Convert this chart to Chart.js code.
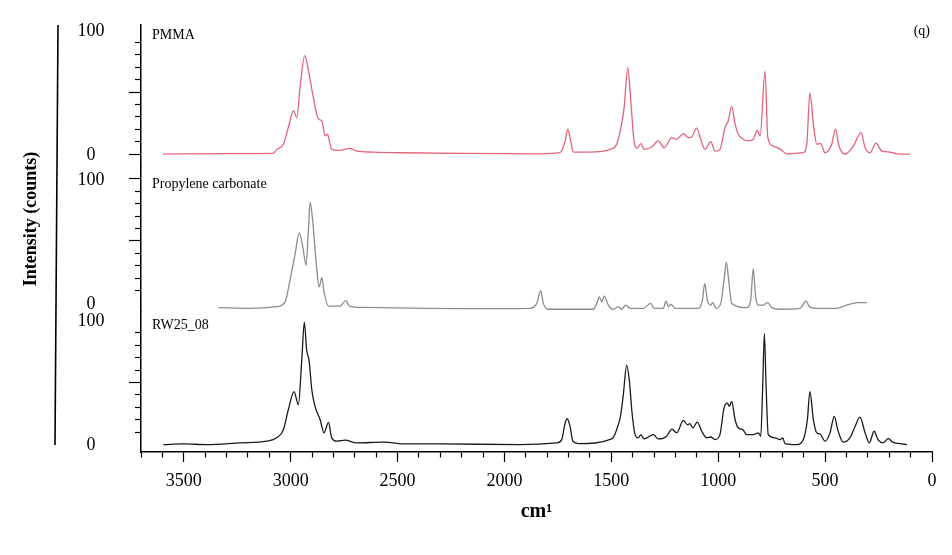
<!DOCTYPE html>
<html>
<head>
<meta charset="utf-8">
<style>
  html, body { margin: 0; padding: 0; background: #fff; }
</style>
<script src="https://cdn.jsdelivr.net/npm/chart.js@4.4.1/dist/chart.umd.min.js"></script>
</head>
<body>
<canvas id="raman" width="952" height="555"></canvas>
<script>
// Raman shift (cm-1) and intensity (counts)
const pmmaShift = [
  3597, 3300, 3082, 3065, 3034, 3011, 2987, 2971, 2956, 2934,
  2917, 2894, 2870, 2854, 2839, 2828, 2808, 2769, 2725, 2691,
  2614, 2488, 2200, 1833, 1740, 1716, 1704, 1690, 1678, 1600,
  1506, 1475, 1452, 1440, 1423, 1409, 1394, 1381, 1361, 1347,
  1311, 1280, 1253, 1217, 1194, 1163, 1140, 1124, 1101, 1082,
  1062, 1035, 1015, 992, 968, 953, 937, 921, 906, 883,
  859, 836, 817, 804, 781, 768, 742, 708, 680, 602,
  586, 571, 555, 539, 521, 500, 469, 452, 435, 407,
  368, 332, 313, 290, 262, 235, 196, 165, 103
];
const pmmaCounts = [
  0, 0.3, 0.5, 3.8, 7.9, 21.4, 34.9, 29.5, 54, 79.4,
  67.5, 45.8, 28.2, 26.8, 14.6, 16, 3.8, 3, 4.6, 2.4,
  1.6, 1.1, 0.5, 0.2, 1.1, 10.6, 20.1, 10.6, 1.6, 1.6,
  3.8, 7.9, 24.1, 37.6, 69.7, 43, 10.6, 4.6, 8.4, 3.8,
  5.7, 10.6, 5.1, 13.2, 11.9, 16.5, 13.2, 13.8, 20.9, 11.9,
  3.8, 10, 2.4, 3.8, 21.4, 26.8, 38.5, 24.1, 16, 11.9,
  10.6, 11.9, 19.3, 14.6, 66.9, 13.2, 6.5, 3.8, 0.2, 1.1,
  7.9, 49.3, 24.1, 7.9, 8.4, 1.1, 7.9, 20.1, 6.5, 0,
  6.5, 17.3, 5.1, 1.1, 8.8, 2.4, 1.6, 0.2, 0
];

const pcShift = [
  3338, 3190, 3065, 3026, 3003, 2979, 2960, 2943, 2928, 2917,
  2909, 2897, 2878, 2867, 2854, 2844, 2823, 2769, 2742, 2725,
  2660, 2020, 1880, 1849, 1830, 1818, 1795, 1584, 1568, 1556,
  1545, 1533, 1514, 1491, 1467, 1451, 1433, 1412, 1350, 1316,
  1300, 1257, 1244, 1233, 1222, 1202, 1093, 1074, 1063, 1051,
  1035, 1026, 1010, 988, 973, 962, 951, 937, 867, 848,
  836, 825, 812, 789, 768, 750, 711, 617, 599, 589,
  574, 539, 446, 399, 368, 352, 305
];
const pcCounts = [
  -3.7, -4.3, -2.9, 1, 18.4, 39.7, 56.5, 45, 30.4, 58.4,
  81, 66.4, 27.7, 13, 20.5, 9, -2.4, -2.4, 1.9, -2.4,
  -3.5, -4.5, -4.3, -0.3, 9.9, -0.3, -5, -5, -0.3, 5,
  1, 5.6, -1.6, -5, -2.9, -5, -1.6, -4.3, -4.3, -0.3,
  -4.3, -4.3, 1.6, -2.9, -0.8, -4.3, -4.3, 2.4, 15.7, 2.4,
  -1.6, 0.3, -4.3, -0.3, 18.4, 33, 18.4, -0.3, -3.7, 2.4,
  27.7, 5, -1.6, -1.6, 0.3, -3.7, -5, -4.3, -0.3, 1.8,
  -2.9, -4.3, -4.3, -1.6, -0.3, 0.3, 0.3
];

const rwShift = [
  3595, 3502, 3392, 3236, 3112, 3065, 3034, 3011, 2984, 2964,
  2948, 2936, 2925, 2914, 2901, 2886, 2862, 2844, 2823, 2808,
  2784, 2745, 2691, 2566, 2457, 2301, 1927, 1755, 1732, 1716,
  1706, 1693, 1680, 1654, 1498, 1475, 1456, 1444, 1428, 1416,
  1403, 1389, 1374, 1362, 1347, 1303, 1280, 1241, 1217, 1194,
  1163, 1144, 1132, 1119, 1098, 1077, 1054, 1035, 1015, 992,
  973, 957, 948, 937, 921, 906, 885, 867, 836, 812,
  801, 792, 784, 776, 766, 734, 711, 698, 688, 633,
  602, 583, 571, 555, 539, 524, 500, 477, 457, 441,
  415, 384, 360, 337, 313, 293, 271, 251, 228, 204,
  184, 150, 118
];
const rwCounts = [
  0, 0.5, 0, 1.4, 2.7, 5.4, 12, 28, 42.7, 32,
  68, 98.7, 76, 68, 44, 30.7, 20, 9.4, 17.9, 5.4,
  2.7, 3.5, 1.4, 1.9, 0.5, 0.5, 0, 1.4, 4, 17.4,
  20.8, 14.6, 2.7, 0.8, 4.5, 12, 24, 40, 64, 52,
  25.4, 8, 5.4, 8, 4.5, 8, 4.5, 6.7, 12.5, 9.4,
  19.5, 16, 16.8, 13.4, 18.1, 10.7, 5.4, 6.1, 4, 8,
  29.4, 33.4, 30.7, 34.7, 20, 13.4, 12, 8, 8, 9.4,
  6.7, 46.7, 89.4, 46.7, 8, 5.4, 4, 5.4, 0.8, 0,
  4, 20, 42.7, 20, 9.4, 8.5, 2.7, 9.4, 22.7, 12,
  1.9, 5.4, 14.6, 22.1, 9.4, 1.4, 10.7, 3.5, 1.4, 4.8,
  1.9, 0.8, 0
];

const sampleNames = ['PMMA', 'Propylene carbonate', 'RW25_08'];
const panelAxes = ['yPMMA', 'yPC', 'yRW'];
const yTickLabels = [0, 100];
const xTickStep = 500;

const serif = 'Liberation Serif';

const toPoints = (xs, ys) => xs.map((x, i) => ({ x: x, y: ys[i] }));

const isMinorY = ctx => !(ctx.tick && ctx.tick.value % 50 === 0);

// one y axis per spectrum, stacked on the left (labels drawn by the plugin)
function panelAxis(min, max) {
  return {
    type: 'linear',
    position: 'left',
    stack: 'spectra',
    stackWeight: max - min,
    min: min,
    max: max,
    afterBuildTicks: s => { s.ticks = s.ticks.filter(t => t.value >= 0 && t.value <= 100); },
    afterFit: s => { s.width = 100; },
    border: { color: '#000', width: 1.5 },
    grid: {
      drawOnChartArea: false,
      tickLength: 12,
      tickColor: '#000',
      tickWidth: 1.2,
      // minor ticks: only the half next to the axis line
      tickBorderDash: ctx => isMinorY(ctx) ? [6, 6] : [],
      tickBorderDashOffset: ctx => isMinorY(ctx) ? 6 : 0
    },
    ticks: { stepSize: 10, autoSkip: false, display: false }
  };
}

const annotations = {
  id: 'annotations',
  afterDraw(chart) {
    const { ctx, chartArea } = chart;
    ctx.save();
    ctx.fillStyle = '#000';

    // 0 / 100 labels of every panel
    ctx.font = '18px "' + serif + '"';
    ctx.textAlign = 'center';
    ctx.textBaseline = 'middle';
    panelAxes.forEach(id => {
      const s = chart.scales[id];
      yTickLabels.forEach(v => {
        ctx.fillText(String(v), chartArea.left - 50, s.getPixelForValue(v) + 1);
      });
    });

    ctx.font = '14px "' + serif + '"';
    ctx.textAlign = 'left';
    panelAxes.forEach((id, i) => {
      const y = chart.scales[id].getPixelForValue(100);
      ctx.fillText(sampleNames[i], chartArea.left + 11, y + 5);
    });
    ctx.textAlign = 'right';
    ctx.fillText('(q)', chartArea.right - 2, chartArea.top + 6);

    // stray vertical rule of the original figure
    ctx.strokeStyle = '#000';
    ctx.lineWidth = 1.6;
    ctx.beginPath();
    ctx.moveTo(chartArea.left - 83, chartArea.top);
    ctx.lineTo(chartArea.left - 86, chartArea.bottom - 7);
    ctx.stroke();

    ctx.translate(chartArea.left - 110, chartArea.top + 194);
    ctx.rotate(-Math.PI / 2);
    ctx.textAlign = 'center';
    ctx.font = 'bold 18px "' + serif + '"';
    ctx.fillText('Intensity (counts)', 0, 0);
    ctx.restore();
  }
};

const line = (label, xs, ys, axis, color) => ({
  label: label,
  data: toPoints(xs, ys),
  yAxisID: axis,
  borderColor: color,
  borderWidth: 1.3,
  pointRadius: 0,
  cubicInterpolationMode: 'monotone',
  fill: false
});

new Chart(document.getElementById('raman'), {
  type: 'line',
  data: {
    datasets: [
      line(sampleNames[0], pmmaShift, pmmaCounts, 'yPMMA', '#e3647c'),
      line(sampleNames[1], pcShift, pcCounts, 'yPC', '#8c8c8c'),
      line(sampleNames[2], rwShift, rwCounts, 'yRW', '#1a1a1a')
    ]
  },
  options: {
    responsive: false,
    animation: false,
    layout: { padding: { left: 41, right: 20, top: 25, bottom: 23 } },
    plugins: { legend: { display: false }, tooltip: { enabled: false } },
    scales: {
      x: {
        type: 'linear',
        reverse: true,
        min: 0,
        max: 3700,
        afterFit: s => { s.height = 80; },
        border: { color: '#000', width: 1.5 },
        grid: {
          drawOnChartArea: false,
          tickLength: 10,
          tickColor: '#000',
          tickWidth: 1.2,
          tickBorderDash: ctx => (ctx.tick && ctx.tick.value % xTickStep === 0) ? [] : [5, 100]
        },
        ticks: {
          stepSize: 100,
          autoSkip: false,
          maxRotation: 0,
          padding: 8,
          color: '#000',
          font: { family: serif, size: 18 },
          callback: v => v % xTickStep === 0 ? String(v) : ''
        },
        title: {
          display: true,
          text: 'cm¹',
          color: '#000',
          font: { family: serif, size: 20, weight: 'bold' },
          padding: { top: 4, bottom: 8 }
        }
      },
      // stacked axes are laid out bottom-up
      yRW: panelAxis(-6, 107),
      yPC: panelAxis(-7, 110),
      yPMMA: panelAxis(-10, 104)
    }
  },
  plugins: [annotations]
});
</script>
</body>
</html>
